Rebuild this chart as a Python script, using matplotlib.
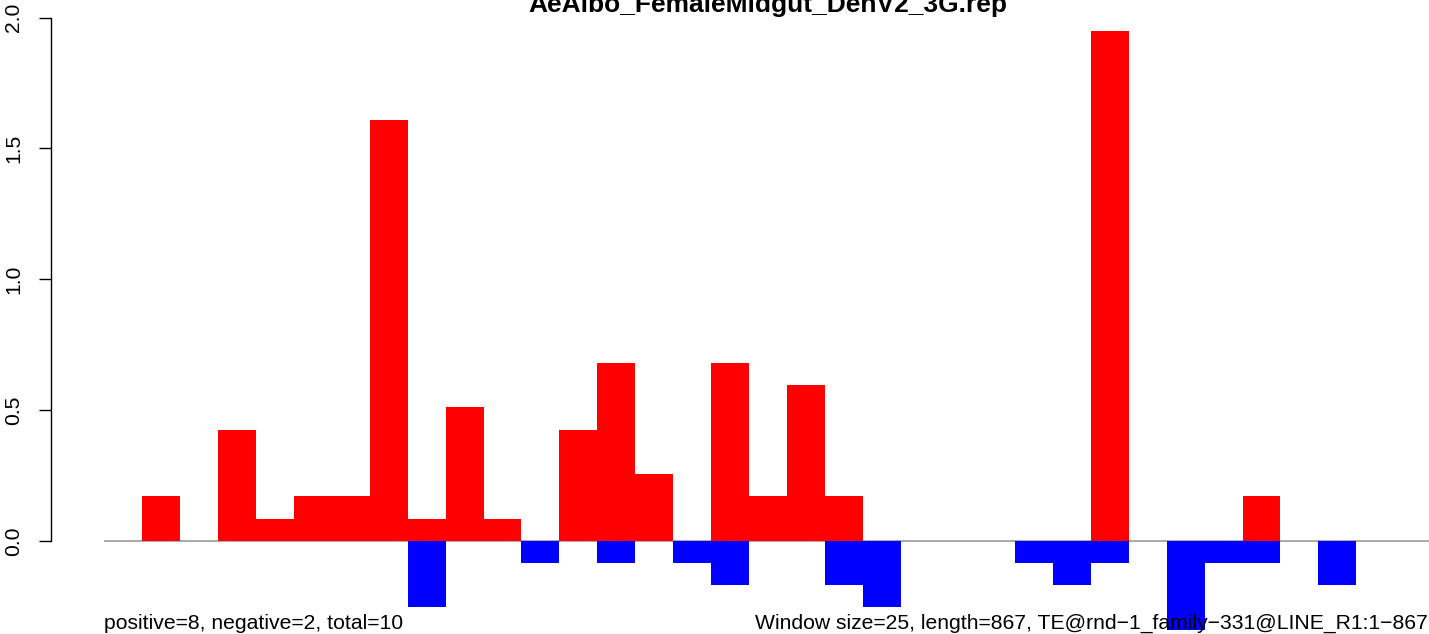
import matplotlib
matplotlib.use("Agg")
import matplotlib.pyplot as plt
import matplotlib.transforms as mtransforms

# ---- data ----
window_size = 25
seq_length = 867
n_windows = 35
title = "AeAlbo_FemaleMidgut_DenV2_3G.rep"
left_note = "positive=8, negative=2, total=10"
right_note = "Window size=25, length=867, TE@rnd\u22121_family\u2212331@LINE_R1:1\u2212867"

pos_windows = [1, 3, 4, 5, 6, 7, 8, 9, 10, 12, 13, 14, 16, 17, 18, 19, 26, 30]
pos_values = [0.17, 0.425, 0.085, 0.17, 0.17, 1.61, 0.085, 0.51, 0.085, 0.425, 0.68, 0.255,
              0.68, 0.17, 0.595, 0.17, 1.95, 0.17]
neg_windows = [8, 11, 13, 15, 16, 19, 20, 24, 25, 26, 28, 29, 30, 32]
neg_values = [-0.255, -0.085, -0.085, -0.085, -0.17, -0.17, -0.255, -0.085, -0.17, -0.085,
              -0.34, -0.085, -0.085, -0.17]
y_ticks = [0.0, 0.5, 1.0, 1.5, 2.0]
y_tick_labels = ["0.0", "0.5", "1.0", "1.5", "2.0"]

W, H, DPI = 1429, 634, 100
plt.rcParams['font.family'] = ['Liberation Sans', 'DejaVu Sans']
fig = plt.figure(figsize=(W / DPI, H / DPI), dpi=DPI)

x_end = n_windows * window_size
pad = 0.04 * x_end
xlim = (-pad, x_end + pad)
px_per_unit = 37.95 / window_size
ax_left_px = 104 - pad * px_per_unit
ax_width_px = (xlim[1] - xlim[0]) * px_per_unit

zero_px = 540.8
y_unit_px = 261.55
ylim = (-(H - zero_px) / y_unit_px, zero_px / y_unit_px)

ax = fig.add_axes([ax_left_px / W, 0, ax_width_px / W, 1])
ax.set_xlim(*xlim)
ax.set_ylim(*ylim)

ax.bar([w * window_size for w in pos_windows], pos_values, width=window_size,
       align='edge', color='#ff0000', linewidth=0, zorder=2)
ax.bar([w * window_size for w in neg_windows], neg_values, width=window_size,
       align='edge', color='#0000ff', linewidth=0, zorder=2)
ax.plot([0, x_end], [0, 0], color='#a3a3a3', linewidth=1.3, zorder=1,
        solid_capstyle='butt')

for s in ['top', 'right', 'bottom']:
    ax.spines[s].set_visible(False)
ax.spines['left'].set_bounds(0, 2.0)
ax.spines['left'].set_linewidth(1.0)
ax.set_xticks([])
ax.set_yticks(y_ticks)
ax.set_yticklabels(y_tick_labels, rotation=90, va='center', ha='right',
                   fontsize=15.2)
ax.tick_params(axis='y', length=9, width=1.0, pad=11)

trans = mtransforms.blended_transform_factory(ax.transData, fig.transFigure)
ax.text(0, 5 / H, left_note, transform=trans, ha='left', va='baseline',
        fontsize=15.2, clip_on=False)
fig.text(1428 / W, 5 / H, right_note, ha='right', va='baseline', fontsize=15.2)
ax.text((xlim[0] + xlim[1]) / 2, (H - 12) / H, title, transform=trans,
        ha='center', va='baseline', fontsize=19, fontweight='bold', clip_on=False)

fig.savefig("out.png", dpi=DPI)
